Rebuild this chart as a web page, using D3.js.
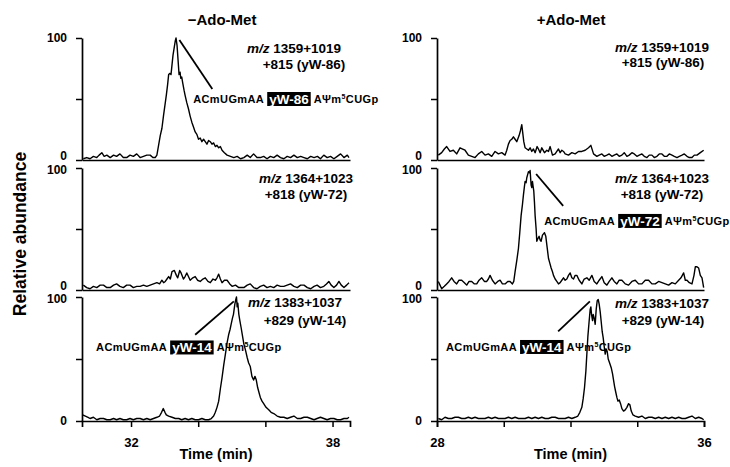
<!DOCTYPE html>
<html>
<head>
<meta charset="utf-8">
<script src="https://cdn.jsdelivr.net/npm/d3@7"></script>
<style>
body { margin:0; background:#ffffff; }
text { font-family: "Liberation Sans", Arial, Helvetica, sans-serif; font-weight: bold; }
</style>
</head>
<body>
<div id="chart"></div>
<script>
//Ion chromatograms, -Ado-Met vs +Ado-Met

//Data
const columnTitles = ["\u2212Ado-Met", "+Ado-Met"];
const xTicksLeft = [32, 34, 36, 38];
const xTicksRight = [28, 30, 32, 34, 36];
const xLabelsLeft = [32, 38];
const xLabelsRight = [28, 36];
const yTickValues = [0, 50, 100];
const yTickLabels = ["0", "", "100"];
const mzLine1 = ["1359+1019", "1364+1023", "1383+1037"];
const mzLine2 = ["+815 (yW-86)", "+818 (yW-72)", "+829 (yW-14)"];
const boxNames = ["yW-86", "yW-72", "yW-14"];
const seqPrefix = "ACmUGmAA";

// [time (min), relative abundance]
const tic_minus_86 = [[30.58,1],[30.68,2],[30.78,1],[30.88,3],[30.98,2],[31.05,4],[31.13,6],[31.2,3],[31.28,4],[31.38,2],[31.48,4],[31.57,3],[31.67,5],[31.77,2],[31.87,2],[31.97,4],[32.07,3],[32.17,5],[32.27,2],[32.37,3],[32.47,4],[32.57,4],[32.65,2],[32.72,2],[32.77,4],[32.82,12],[32.87,20],[32.92,26],[32.97,37],[33.01,45],[33.05,53],[33.09,62],[33.12,70],[33.16,71],[33.19,70],[33.22,78],[33.25,86],[33.29,93],[33.32,98],[33.34,100],[33.37,94],[33.39,86],[33.41,78],[33.43,70],[33.46,72],[33.48,67],[33.51,68],[33.54,63],[33.58,57],[33.61,53],[33.66,47],[33.71,42],[33.76,36],[33.81,31],[33.86,27],[33.91,23],[33.96,21],[34.01,17],[34.06,18],[34.11,15],[34.16,17],[34.21,15],[34.26,13],[34.31,16],[34.36,15],[34.41,13],[34.46,14],[34.51,11],[34.56,12],[34.61,10],[34.66,11],[34.71,8],[34.78,6],[34.86,4],[34.96,3],[35.06,2],[35.16,3],[35.26,1],[35.36,2],[35.46,4],[35.55,2],[35.65,5],[35.75,2],[35.85,2],[35.95,3],[36.05,1],[36.15,3],[36.25,2],[36.35,4],[36.45,2],[36.55,1],[36.65,3],[36.75,2],[36.85,4],[36.95,2],[37.05,3],[37.15,2],[37.25,1],[37.35,3],[37.45,2],[37.55,3],[37.64,1],[37.74,4],[37.84,2],[37.94,3],[38.04,1],[38.14,3],[38.24,5],[38.34,2],[38.44,4],[38.49,2]];

const tic_plus_86 = [[28.04,4],[28.14,6],[28.22,9],[28.29,11],[28.39,7],[28.49,8],[28.59,5],[28.69,10],[28.77,9],[28.84,8],[28.94,4],[29.04,3],[29.14,2],[29.24,5],[29.34,7],[29.44,4],[29.54,5],[29.64,3],[29.74,7],[29.84,5],[29.94,6],[30.04,4],[30.09,8],[30.14,13],[30.19,16],[30.24,17],[30.29,19],[30.34,17],[30.39,15],[30.46,20],[30.5,24],[30.54,29],[30.57,22],[30.6,15],[30.64,10],[30.69,9],[30.74,8],[30.79,10],[30.84,7],[30.89,9],[30.94,6],[31.0,11],[31.04,9],[31.09,6],[31.14,10],[31.22,6],[31.29,8],[31.34,7],[31.39,11],[31.46,4],[31.54,5],[31.59,7],[31.64,9],[31.69,6],[31.74,8],[31.79,7],[31.84,5],[31.94,4],[32.04,6],[32.14,5],[32.24,7],[32.34,7],[32.44,8],[32.54,10],[32.61,12],[32.69,5],[32.79,3],[32.86,4],[32.94,5],[33.01,3],[33.09,4],[33.16,5],[33.24,3],[33.31,4],[33.39,5],[33.46,3],[33.54,4],[33.61,6],[33.69,3],[33.76,4],[33.84,6],[33.91,5],[33.99,3],[34.06,4],[34.14,5],[34.21,3],[34.29,2],[34.36,4],[34.44,4],[34.51,2],[34.59,3],[34.66,5],[34.74,5],[34.81,3],[34.89,3],[34.96,5],[35.04,4],[35.11,3],[35.19,2],[35.26,3],[35.34,4],[35.41,5],[35.49,3],[35.56,2],[35.64,2],[35.71,4],[35.79,4],[35.89,6],[35.99,8]];

const tic_minus_72 = [[30.58,4],[30.68,2],[30.78,1],[30.88,3],[30.98,2],[31.08,4],[31.18,4],[31.28,2],[31.38,2],[31.48,4],[31.57,5],[31.67,3],[31.77,2],[31.87,4],[31.97,4],[32.07,2],[32.17,3],[32.27,3],[32.37,4],[32.47,3],[32.57,4],[32.67,5],[32.77,6],[32.85,5],[32.92,8],[32.97,6],[33.02,7],[33.07,9],[33.12,11],[33.17,9],[33.22,15],[33.29,16],[33.35,12],[33.39,10],[33.45,16],[33.49,14],[33.56,9],[33.61,11],[33.66,14],[33.71,11],[33.76,8],[33.84,10],[33.91,11],[33.98,8],[34.06,7],[34.14,9],[34.21,10],[34.29,7],[34.36,6],[34.44,9],[34.51,8],[34.56,10],[34.61,13],[34.66,9],[34.71,6],[34.78,8],[34.86,8],[34.94,5],[35.01,3],[35.11,4],[35.21,2],[35.36,2],[35.46,4],[35.55,5],[35.65,2],[35.75,1],[35.85,3],[35.95,4],[36.05,2],[36.15,3],[36.25,2],[36.35,4],[36.45,3],[36.55,3],[36.65,4],[36.75,5],[36.85,3],[36.95,2],[37.05,4],[37.15,4],[37.25,2],[37.35,1],[37.45,3],[37.54,4],[37.64,2],[37.74,3],[37.82,5],[37.89,7],[37.96,4],[38.04,2],[38.12,4],[38.19,7],[38.26,4],[38.34,2],[38.42,4],[38.49,6]];

const tic_plus_72 = [[28.04,7],[28.09,4],[28.14,1],[28.22,3],[28.29,5],[28.36,7],[28.44,10],[28.51,7],[28.59,5],[28.66,8],[28.74,8],[28.82,6],[28.89,4],[28.96,7],[29.04,7],[29.12,5],[29.19,5],[29.26,8],[29.34,10],[29.42,7],[29.49,7],[29.54,9],[29.59,12],[29.66,8],[29.74,5],[29.82,7],[29.89,8],[29.96,5],[30.04,5],[30.12,7],[30.19,7],[30.26,5],[30.3,7],[30.34,15],[30.39,24],[30.44,34],[30.48,47],[30.52,61],[30.56,70],[30.59,78],[30.62,85],[30.64,89],[30.67,88],[30.69,92],[30.72,95],[30.74,97],[30.77,96],[30.79,98],[30.81,90],[30.82,86],[30.84,84],[30.86,89],[30.88,85],[30.9,81],[30.92,72],[30.94,61],[30.97,50],[30.99,40],[31.02,42],[31.06,44],[31.09,41],[31.12,40],[31.16,45],[31.19,46],[31.22,47],[31.26,44],[31.3,35],[31.34,26],[31.38,22],[31.42,18],[31.46,15],[31.49,12],[31.54,9],[31.59,7],[31.64,5],[31.69,6],[31.74,8],[31.79,10],[31.84,8],[31.89,9],[31.94,12],[31.99,14],[32.04,10],[32.09,9],[32.14,12],[32.19,12],[32.26,8],[32.34,5],[32.41,9],[32.49,10],[32.56,8],[32.64,12],[32.71,7],[32.79,5],[32.86,8],[32.94,11],[33.01,6],[33.09,4],[33.16,7],[33.24,10],[33.31,7],[33.39,5],[33.46,8],[33.54,8],[33.64,5],[33.74,4],[33.84,7],[33.94,8],[34.04,5],[34.14,5],[34.24,8],[34.34,8],[34.44,5],[34.54,5],[34.64,7],[34.74,6],[34.84,5],[34.94,4],[35.04,6],[35.14,5],[35.24,8],[35.31,10],[35.39,14],[35.44,8],[35.49,8],[35.56,6],[35.64,5],[35.7,12],[35.74,19],[35.79,19],[35.84,18],[35.89,12],[35.94,10],[35.99,2]];

const tic_minus_14 = [[30.56,5],[30.64,4],[30.72,3],[30.78,2],[30.88,3],[30.98,1],[31.08,2],[31.18,2],[31.28,1],[31.38,1],[31.48,2],[31.57,1],[31.67,2],[31.77,1],[31.87,1],[31.97,2],[32.07,1],[32.17,2],[32.27,2],[32.37,1],[32.47,2],[32.57,1],[32.67,2],[32.77,3],[32.85,4],[32.91,7],[32.96,10],[33.01,7],[33.05,5],[33.12,4],[33.22,3],[33.32,2],[33.42,2],[33.51,1],[33.61,2],[33.71,1],[33.81,2],[33.91,1],[34.01,1],[34.11,2],[34.21,1],[34.31,1],[34.39,2],[34.46,4],[34.51,7],[34.56,11],[34.61,16],[34.66,26],[34.71,35],[34.76,45],[34.81,54],[34.86,63],[34.91,70],[34.95,74],[34.98,78],[35.02,83],[35.05,86],[35.09,94],[35.12,98],[35.14,100],[35.16,92],[35.18,95],[35.21,86],[35.24,81],[35.28,75],[35.31,70],[35.36,62],[35.41,57],[35.46,51],[35.5,47],[35.55,44],[35.6,36],[35.65,33],[35.69,36],[35.73,33],[35.77,27],[35.81,23],[35.85,19],[35.9,16],[35.95,14],[36.02,11],[36.1,9],[36.17,7],[36.25,6],[36.35,4],[36.45,3],[36.55,3],[36.65,2],[36.75,3],[36.85,4],[36.95,2],[37.05,2],[37.15,3],[37.25,3],[37.35,2],[37.45,1],[37.54,2],[37.64,3],[37.74,2],[37.84,1],[37.94,2],[38.04,2],[38.14,1],[38.24,1],[38.34,2],[38.44,2],[38.49,3]];

const tic_plus_14 = [[28.04,2],[28.14,1],[28.24,3],[28.34,2],[28.44,2],[28.54,3],[28.64,3],[28.74,2],[28.84,2],[28.94,3],[29.04,2],[29.14,3],[29.24,2],[29.34,2],[29.44,2],[29.54,3],[29.64,2],[29.74,3],[29.84,2],[29.94,2],[30.04,2],[30.14,3],[30.24,2],[30.34,3],[30.44,2],[30.54,2],[30.64,2],[30.74,3],[30.84,2],[30.94,3],[31.04,2],[31.14,3],[31.24,2],[31.34,2],[31.44,3],[31.54,3],[31.64,2],[31.74,2],[31.84,2],[31.94,3],[32.04,2],[32.14,3],[32.22,4],[32.28,7],[32.34,11],[32.38,18],[32.42,27],[32.46,40],[32.49,54],[32.52,68],[32.56,81],[32.59,90],[32.61,92],[32.63,86],[32.66,81],[32.68,86],[32.71,83],[32.74,78],[32.77,90],[32.8,97],[32.83,98],[32.86,94],[32.89,88],[32.92,80],[32.95,72],[32.98,67],[33.01,60],[33.04,54],[33.07,58],[33.1,56],[33.13,50],[33.17,47],[33.22,43],[33.26,38],[33.29,33],[33.32,28],[33.35,24],[33.39,19],[33.42,16],[33.46,17],[33.5,14],[33.54,10],[33.59,8],[33.64,9],[33.69,11],[33.74,14],[33.78,13],[33.82,8],[33.87,5],[33.94,4],[34.04,3],[34.14,4],[34.24,2],[34.34,3],[34.44,3],[34.54,2],[34.64,3],[34.74,2],[34.84,3],[34.94,2],[35.04,3],[35.14,2],[35.24,3],[35.34,2],[35.44,2],[35.54,3],[35.64,4],[35.74,2],[35.84,3],[35.94,2],[35.99,1]];

const tracesLeft = [tic_minus_86, tic_minus_72, tic_minus_14];
const tracesRight = [tic_plus_86, tic_plus_72, tic_plus_14];

//Layout
const ch_width = 730;
const ch_height = 467;
const ch_panelY = [[160, 38], [290, 168], [421, 297]];
const ch_cols = [
    {domain: [30.54, 38.52], range: [82, 350], ticks: xTicksLeft, labels: xLabelsLeft, traces: tracesLeft,
     titleX: 222, mzX: [[294, 304], [306, 306], [295, 305]], mzY: [[53, 69], [183, 199], [307, 325]]},
    {domain: [28, 36], range: [437, 704], ticks: xTicksRight, labels: xLabelsRight, traces: tracesRight,
     titleX: 571, mzX: [[662, 663], [662, 662], [662, 663]], mzY: [[52, 67], [183, 199], [308, 325]]}
];
// sequence callouts: column, panel, leader line (data units), label start (data units)
const ch_callouts = [
    {col: 0, row: 0, name: boxNames[0], from: [33.44, 98.4], to: [34.42, 58.2], at: [33.85, 50]},
    {col: 1, row: 1, name: boxNames[1], from: [30.97, 95.1], to: [31.78, 68.9], at: [31.21, 56.6]},
    {col: 0, row: 2, name: boxNames[2], from: [35.06, 96.5], to: [33.91, 69.6], at: [30.96, 59.3]},
    {col: 1, row: 2, name: boxNames[2], from: [32.58, 96.5], to: [31.63, 72.3], at: [28.27, 59.7]}
];

let svg = d3.select("#chart")
    .append("svg")
    .attr("width", ch_width)
    .attr("height", ch_height);

svg.append("rect")
    .attr("width", "100%")
    .attr("height", "100%")
    .attr("fill", "#ffffff");

let scales = [];

ch_cols.forEach((col, ci) => {
    let x = d3.scaleLinear().domain(col.domain).range(col.range);
    let ys = [];

    //column title
    svg.append("text")
        .attr("x", col.titleX)
        .attr("y", 25)
        .attr("text-anchor", "middle")
        .style("font-size", "15px")
        .text(columnTitles[ci]);

    ch_panelY.forEach((py, ri) => {
        let y = d3.scaleLinear().domain([0, 100]).range(py);
        ys.push(y);

        // x baseline (ticks only on the bottom panel)
        let xAxis = d3.axisBottom(x).tickSizeOuter(0);
        if (ri === 2) {
            xAxis.tickValues(col.ticks).tickSize(6).tickPadding(11)
                .tickFormat(d => col.labels.includes(d) ? d : "");
        } else {
            xAxis.tickValues([]);
        }
        let gx = svg.append("g")
            .attr("transform", `translate(0,${py[0]})`)
            .call(xAxis);
        gx.selectAll("text").style("font-size", "13px").attr("font-family", null).attr("fill", "#000");

        // y axis
        let gy = svg.append("g")
            .attr("transform", `translate(${col.range[0]},0)`)
            .call(d3.axisLeft(y)
                .tickValues(yTickValues)
                .tickSize(6)
                .tickSizeOuter(0)
                .tickPadding(9)
                .tickFormat((d, i) => yTickLabels[i]));
        // zero label lifted a little where the next panel's 100 sits just below
        gy.selectAll("text")
            .style("font-size", "12px")
            .attr("font-family", null)
            .attr("fill", "#000")
            .attr("dy", d => (d === 0 && ri < 2) ? "-0.05em" : (d === 100 && ri > 0 ? "0.47em" : "0.32em"));

        [gx, gy].forEach(g => {
            g.select(".domain").attr("stroke", "#000").attr("stroke-width", 1.7);
            g.selectAll(".tick line").attr("stroke", "#000").attr("stroke-width", 1.5);
        });

        // trace
        let line = d3.line()
            .x(d => x(d[0]))
            .y(d => y(d[1]));
        svg.append("path")
            .datum(col.traces[ri])
            .attr("fill", "none")
            .attr("stroke", "#000")
            .attr("stroke-width", 1.4)
            .attr("stroke-linejoin", "round")
            .attr("d", line);

        // m/z label
        let mz = svg.append("text")
            .attr("x", col.mzX[ri][0])
            .attr("y", col.mzY[ri][0])
            .attr("text-anchor", "middle")
            .style("font-size", "13.5px");
        mz.append("tspan").style("font-style", "italic").text("m/z");
        mz.append("tspan").text(" " + mzLine1[ri]);

        svg.append("text")
            .attr("x", col.mzX[ri][1])
            .attr("y", col.mzY[ri][1])
            .attr("text-anchor", "middle")
            .style("font-size", "13.5px")
            .text(mzLine2[ri]);
    });

    //Time label
    svg.append("text")
        .attr("x", (col.range[0] + col.range[1]) / 2)
        .attr("y", 459)
        .attr("text-anchor", "middle")
        .style("font-size", "14.5px")
        .text("Time (min)");

    scales.push({x: x, ys: ys});
});

svg.append("text")
    .attr("transform", "translate(26,234) rotate(-90)")
    .attr("text-anchor", "middle")
    .style("font-size", "17.5px")
    .text("Relative abundance");

//Callouts
ch_callouts.forEach(c => {
    let x = scales[c.col].x;
    let y = scales[c.col].ys[c.row];
    svg.append("line")
        .attr("x1", x(c.from[0])).attr("y1", y(c.from[1]))
        .attr("x2", x(c.to[0])).attr("y2", y(c.to[1]))
        .attr("stroke", "#000")
        .attr("stroke-width", 1.8);
    mkSeqLabel(x(c.at[0]), y(c.at[1]), c.name);
});

function mkSeqLabel(px, py, name) {
    let lab = svg.append("g")
        .attr("transform", `translate(${px},${py})`);

    let pre = lab.append("text")
        .attr("y", 4)
        .style("font-size", "11px")
        .style("letter-spacing", "0.4px")
        .text(seqPrefix);
    let w1 = pre.node().getComputedTextLength();

    let box = lab.append("rect")
        .attr("fill", "#000");
    let bt = lab.append("text")
        .attr("x", w1 + 5)
        .attr("y", 5)
        .attr("fill", "#fff")
        .style("font-size", "13.5px")
        .text(name);
    let w2 = bt.node().getComputedTextLength();
    box.attr("x", w1 + 3)
        .attr("y", -7)
        .attr("width", w2 + 4)
        .attr("height", 14);

    let suf = lab.append("text")
        .attr("x", w1 + w2 + 10)
        .attr("y", 4)
        .style("font-size", "11px")
        .style("letter-spacing", "0.4px");
    suf.append("tspan").text("A\u03A8m");
    suf.append("tspan").attr("dy", -4).style("font-size", "7px").text("5");
    suf.append("tspan").attr("dy", 4).text("CUGp");
}
</script>
</body>
</html>
